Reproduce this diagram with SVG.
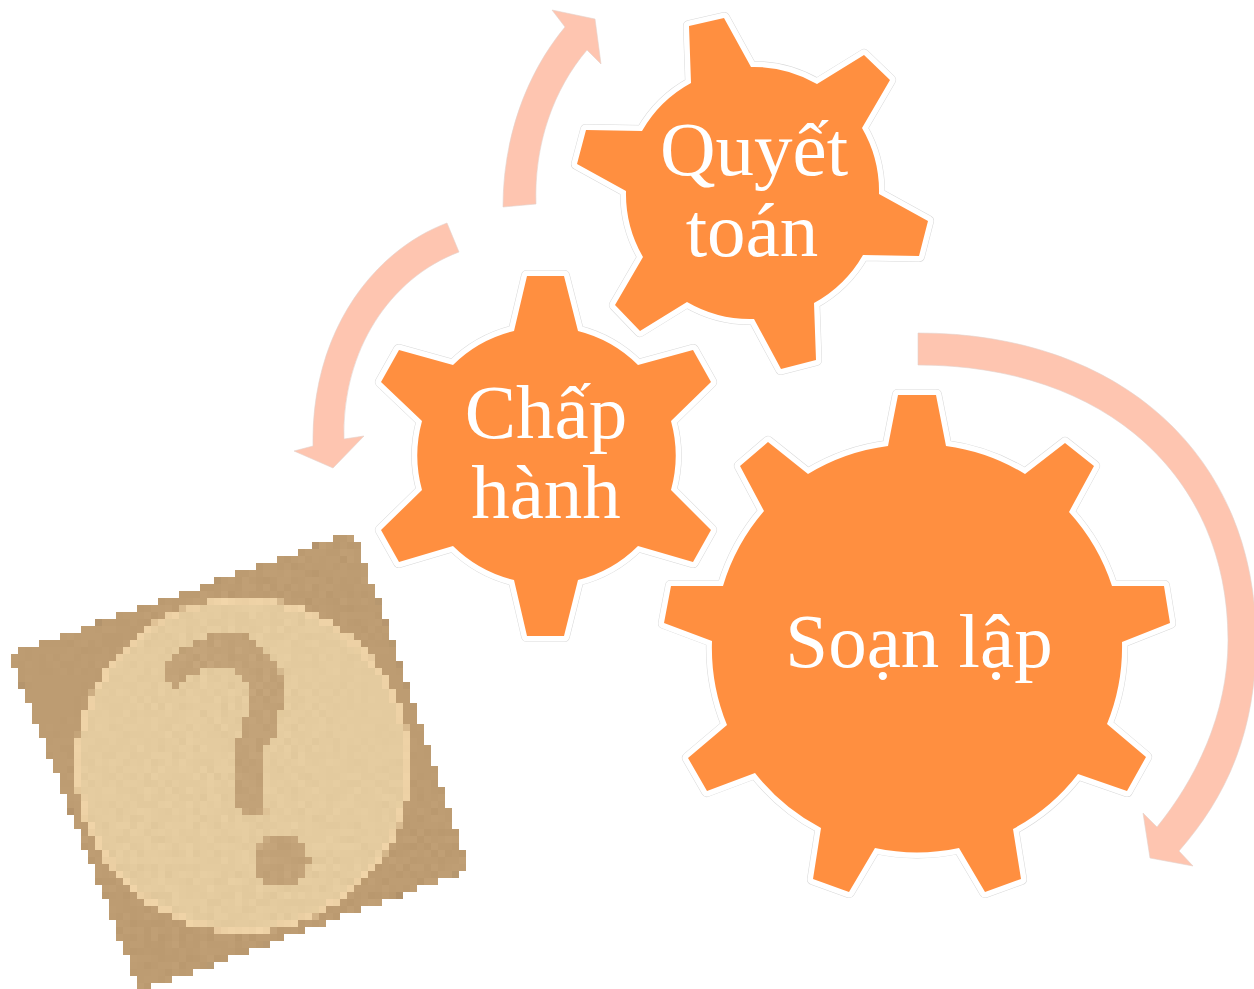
<svg xmlns="http://www.w3.org/2000/svg" width="1254" height="989" viewBox="0 0 1254 989">
<style>
.halo{fill:none;stroke:#d9d9d9;stroke-width:12;stroke-linejoin:round}
.edge{fill:none;stroke:#fff;stroke-width:11;stroke-linejoin:round}
.gear{fill:#ff8f40}
.arrow{fill:#fec5b0;stroke:#e4d2cb;stroke-width:.6}
.label{font-family:"Liberation Serif","Times New Roman",serif;font-size:77px;fill:#fff;text-anchor:middle}
</style>
<defs>
<path id="g1" d="M888,446L898,395L936,395L946,446A204,204 0 0 1 1025,474L1065,443L1094,466L1069,512A204,204 0 0 1 1112,586L1164,586L1170,623L1122,642A204,204 0 0 1 1107,724L1146,757L1127,791L1078,774A204,204 0 0 1 1013,829L1021,879L985,892L959,848A204,204 0 0 1 875,848L849,892L813,879L821,828A204,204 0 0 1 755,773L707,791L688,758L727,725A204,204 0 0 1 712,641L664,623L671,586L723,586A204,204 0 0 1 764,511L740,466L768,442L808,474A204,204 0 0 1 888,446Z"/>
<path id="g2" d="M514,331L527,276L564,276L578,331A130,130 0 0 1 638,365L693,350L711,382L671,421A130,130 0 0 1 671,490L711,530L693,562L638,546A130,130 0 0 1 578,580L564,636L527,636L514,580A130,130 0 0 1 453,546L399,562L381,530L422,490A130,130 0 0 1 422,421L381,382L399,350L453,365A130,130 0 0 1 514,331Z"/>
<path id="g3" d="M691,83L689,26L724,18L751,67A126,126 0 0 1 817,84L864,55L890,80L862,128A126,126 0 0 1 879,194L928,221L919,256L863,255A126,126 0 0 1 814,303L816,360L781,369L754,319A126,126 0 0 1 687,302L640,331L615,305L643,257A126,126 0 0 1 626,191L577,164L586,130L642,131A126,126 0 0 1 691,83Z"/>
<filter id="pix" filterUnits="userSpaceOnUse" x="4" y="521" width="476" height="476" primitiveUnits="userSpaceOnUse" color-interpolation-filters="sRGB">
<feTurbulence type="fractalNoise" baseFrequency="0.14" numOctaves="1" seed="4" result="t"/>
<feColorMatrix in="t" type="matrix" values="1 0 0 0 0 1 0 0 0 0 1 0 0 0 0 0 0 0 0 1" result="n"/>
<feComposite in="SourceGraphic" in2="n" operator="arithmetic" k1="0" k2="1" k3=".06" k4="-.03" result="noisy"/>
<feComposite in="noisy" in2="SourceAlpha" operator="in" result="clean"/>
<feFlood x="7" y="524" width="1" height="1" flood-color="#000"/>
<feComposite x="4" y="521" width="7" height="7"/>
<feTile result="grid"/>
<feComposite in="clean" in2="grid" operator="in"/>
<feComponentTransfer><feFuncA type="discrete" tableValues="0 1"/></feComponentTransfer>
<feMorphology operator="dilate" radius="3"/>
</filter>
</defs>
<g id="connectors">
<path class="arrow" d="M918,333C1121,333 1256,456 1256,640C1256,730 1228,795 1179,851L1193,866L1150,858L1143,813L1157,827C1195,780 1228,715 1228,640C1228,475 1104,365 918,365Z"/>
<path class="arrow" d="M503,207C503,140 525,75 565,27L552,10L595,19L601,64L587,50C553,90 534,145 536,204Z"/>
<path class="arrow" d="M447,223C375,250 311,330 313,446L294,451L333,468L364,436L344,439C342,350 390,278 459,252Z"/>
</g>
<g id="node-soan-lap">
<use href="#g1" class="halo"/><use href="#g1" class="edge"/><use href="#g1" class="gear"/>
<text class="label" x="919" y="667">Soạn lập</text>
</g>
<g id="node-chap-hanh">
<use href="#g2" class="halo"/><use href="#g2" class="edge"/><use href="#g2" class="gear"/>
<text class="label" x="546" y="438">Chấp</text>
<text class="label" x="546" y="518">hành</text>
</g>
<g id="node-quyet-toan">
<use href="#g3" class="halo"/><use href="#g3" class="edge"/><use href="#g3" class="gear"/>
<text class="label" x="754" y="175">Quyết</text>
<text class="label" x="752" y="256">toán</text>
</g>
<g id="question-sticker" filter="url(#pix)">
<polygon points="9,654 355,531 469,870 140,992" fill="#bd9c72"/>
<circle cx="243" cy="765" r="168" fill="#eed2a6"/>
<circle cx="243" cy="765" r="162" fill="#e4cb9f"/>
<path d="M162,667L173,655L197,642L213,633L240,633L257,642L280,667L283,700L275,737L262,750L262,780L267,817L242,817L232,793L232,753L240,733L248,707L248,683L230,667L207,668L182,680L177,690L167,680Z" fill="#c2a278"/>
<circle cx="282" cy="861" r="27" fill="#c2a278"/>
</g>
</svg>
